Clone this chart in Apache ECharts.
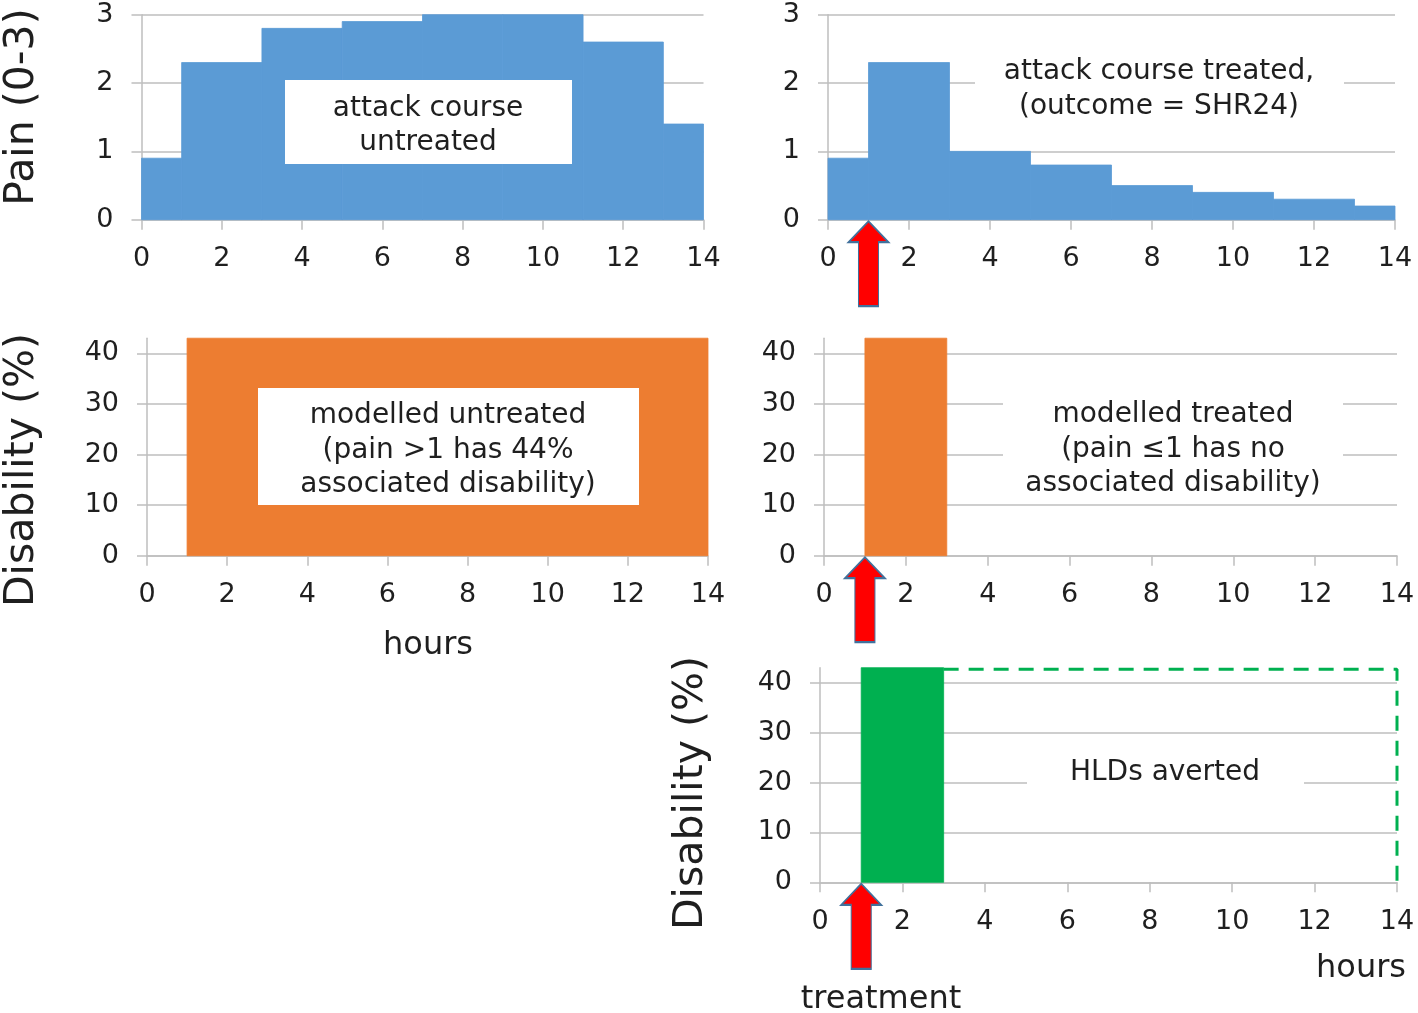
<!DOCTYPE html>
<html><head><meta charset="utf-8">
<script src="https://cdn.jsdelivr.net/npm/echarts@6/dist/echarts.min.js"></script>
<style>html,body{margin:0;padding:0;background:#fff}#c{width:1418px;height:1013px}</style>
</head><body><div id="c"></div>
<script>
// ---------- data ----------
const painTicks = [0, 1, 2, 3];
const disabilityTicks = [0, 10, 20, 30, 40];

// pain step segments (hours)
const segStart = [0, 1, 3, 5, 7, 9, 11, 13];
const segEnd   = [1, 3, 5, 7, 9, 11, 13, 14];
const painUntreated = [0.9, 2.3, 2.8, 2.9, 3.0, 3.0, 2.6, 1.4];
const painTreated   = [0.9, 2.3, 1.0, 0.8, 0.5, 0.4, 0.3, 0.2];

// modelled disability blocks (hours, %)
const disUntreatedStart = [1], disUntreatedEnd = [14], disUntreatedValue = [43];
const disTreatedStart = [1], disTreatedEnd = [3], disTreatedValue = [43];
const remainStart = [1], remainEnd = [3], remainValue = [43];
// outline of HLDs averted region
const avertedX = [3, 14, 14];
const avertedY = [42.7, 42.7, 0];
// treatment time
const treatmentHour = [1];

// ---------- styles ----------
const FONT = '"DejaVu Sans", Verdana, sans-serif';
const TXT = '#1f1f1f';
const GRIDC = '#BEBEBE';
const BLUE = '#5B9BD5', ORANGE = '#ED7D31', GREEN = '#00B050';

const grids = [
  {left: 141.5, top: 14.7, width: 562, height: 205},
  {left: 828, top: 14.7, width: 567, height: 205},
  {left: 147, top: 338.2, width: 561, height: 217.5},
  {left: 824, top: 338.2, width: 573, height: 217.5},
  {left: 820, top: 667.7, width: 577, height: 214.6}
].map(g => Object.assign({containLabel: false, outerBoundsMode: 'none'}, g));

function xAxisCfg(gi) {
  return {
    type: 'value', gridIndex: gi, min: 0, max: 14, interval: 2,
    axisLine: {show: true, onZero: false, lineStyle: {color: GRIDC, width: 1.5}},
    axisTick: {show: true, length: 10, lineStyle: {color: GRIDC, width: 1.5}},
    axisLabel: {fontSize: 27, fontFamily: FONT, color: TXT, margin: 26, hideOverlap: false},
    splitLine: {show: false}
  };
}
function yAxisCfg(gi, max, interval, ticks) {
  return {
    type: 'value', gridIndex: gi, min: 0, max: max, interval: interval,
    axisLine: {show: true, onZero: false, lineStyle: {color: GRIDC, width: 1.5}},
    axisTick: {show: true, length: 10, customValues: ticks, lineStyle: {color: GRIDC, width: 1.5}},
    axisLabel: {fontSize: 27, fontFamily: FONT, color: TXT, margin: 28, customValues: ticks},
    splitLine: {show: true, lineStyle: {color: GRIDC, width: 1.5}}
  };
}

function rectSeries(gi, starts, ends, values, color) {
  return {
    type: 'custom', xAxisIndex: gi, yAxisIndex: gi, silent: true, z: 3,
    data: starts.map((s, i) => [s, ends[i], values[i]]),
    encode: {x: [0, 1], y: 2},
    renderItem: function (params, api) {
      const p0 = api.coord([api.value(0), api.value(2)]);
      const p1 = api.coord([api.value(1), 0]);
      const cs = params.coordSys;
      const shape = echarts.graphic.clipRectByRect(
        {x: p0[0], y: p0[1], width: p1[0] - p0[0], height: p1[1] - p0[1]},
        {x: cs.x, y: cs.y, width: cs.width, height: cs.height});
      return shape && {type: 'rect', shape: shape, style: {fill: color, stroke: color, lineWidth: 0.8}};
    }
  };
}

const ARROW = 'path://M20,0 L40,21 L30,21 L30,85 L10,85 L10,21 L0,21 Z';
function arrowSeries(gi) {
  return {
    type: 'scatter', xAxisIndex: gi, yAxisIndex: gi, silent: true, clip: false, z: 6,
    data: treatmentHour.map(h => [h, 0]),
    symbol: ARROW, symbolSize: [40, 85], symbolOffset: [0, 44],
    itemStyle: {color: '#FF0000', borderColor: '#41719C', borderWidth: 1.5, opacity: 1},
    emphasis: {disabled: true}
  };
}

function label(x, y, text, size, opts) {
  return Object.assign({
    type: 'text', x: x, y: y, z: 101,
    style: {text: text, fontSize: size, fontFamily: FONT, fill: TXT, align: 'center', verticalAlign: 'middle', lineHeight: 34.5}
  }, opts || {});
}
function box(x, y, w, h) {
  return {type: 'rect', z: 100, shape: {x: x, y: y, width: w, height: h}, style: {fill: '#ffffff'}};
}

const option = {
  animation: false,
  backgroundColor: '#ffffff',
  grid: grids,
  xAxis: [0, 1, 2, 3, 4].map(xAxisCfg),
  yAxis: [
    yAxisCfg(0, 3, 1, painTicks),
    yAxisCfg(1, 3, 1, painTicks),
    yAxisCfg(2, 43, 10, disabilityTicks),
    yAxisCfg(3, 43, 10, disabilityTicks),
    yAxisCfg(4, 43, 10, disabilityTicks)
  ],
  series: [
    rectSeries(0, segStart, segEnd, painUntreated, BLUE),
    rectSeries(1, segStart, segEnd, painTreated, BLUE),
    rectSeries(2, disUntreatedStart, disUntreatedEnd, disUntreatedValue, ORANGE),
    rectSeries(3, disTreatedStart, disTreatedEnd, disTreatedValue, ORANGE),
    rectSeries(4, remainStart, remainEnd, remainValue, GREEN),
    {
      type: 'line', xAxisIndex: 4, yAxisIndex: 4, silent: true, clip: false, z: 4,
      data: avertedX.map((x, i) => [x, avertedY[i]]),
      symbol: 'none',
      lineStyle: {color: GREEN, width: 3, type: [15, 10]}
    },
    arrowSeries(1),
    arrowSeries(3),
    arrowSeries(4)
  ],
  graphic: [
    // annotation boxes
    box(285, 80, 287, 84),
    label(428, 125.5, 'attack course\nuntreated', 28, {}),
    box(975, 48, 369, 78),
    label(1159, 89, 'attack course treated,\n(outcome = SHR24)', 28, {}),
    box(258, 388, 381, 117),
    label(448, 450.5, 'modelled untreated\n(pain >1 has 44%\nassociated disability)', 28, {}),
    box(1003, 380, 340, 115),
    label(1173, 449.5, 'modelled treated\n(pain \u22641 has no\nassociated disability)', 28, {}),
    box(1027, 752, 277, 40),
    label(1165, 773, 'HLDs averted', 28, {}),
    // axis titles
    label(22, 107, 'Pain (0-3)', 41, {rotation: Math.PI / 2}),
    label(22, 470, 'Disability (%)', 41, {rotation: Math.PI / 2}),
    label(691, 793, 'Disability (%)', 41, {rotation: Math.PI / 2}),
    label(428, 646, 'hours', 32, {}),
    label(1361, 969, 'hours', 32, {}),
    label(881, 1000, 'treatment', 32, {})
  ]
};

const chart = echarts.init(document.getElementById('c'), null, {renderer: 'canvas'});
chart.setOption(option);
</script>
</body></html>
